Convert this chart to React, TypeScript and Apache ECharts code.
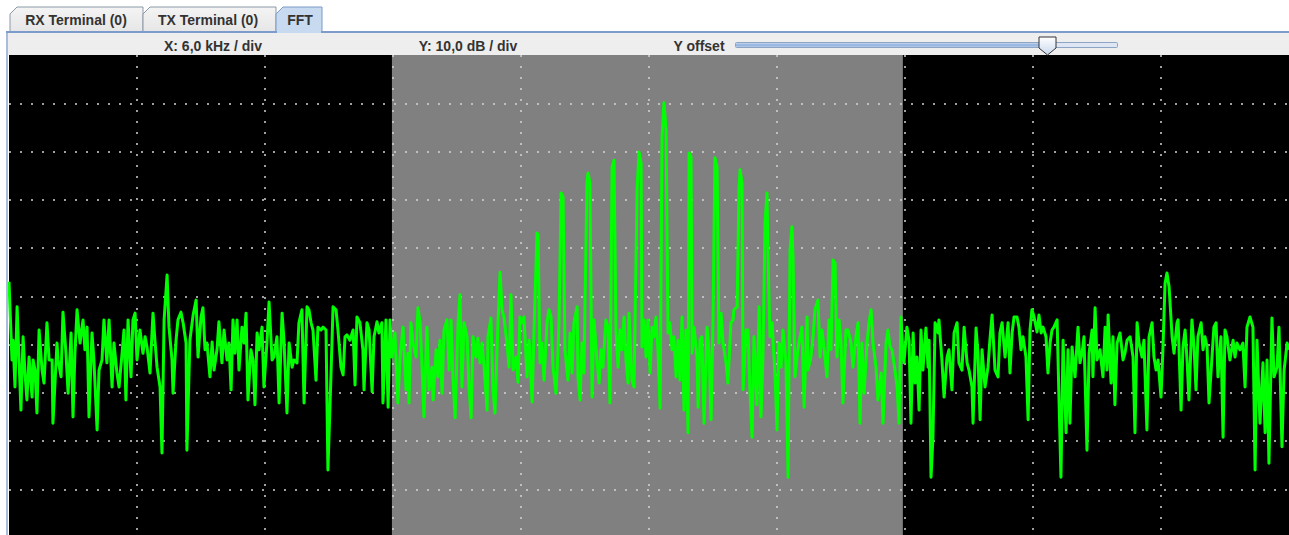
import React, { useEffect, useRef } from "react";
import * as echarts from "echarts";

// Spectrum trace, [frequency kHz, level dB], split into three stretches.
const lowNoise: [number, number][] = [
  [0, -47.0], [0.14, -63.2], [0.19, -59.1], [0.28, -68.8], [0.38, -52.2], [0.47, -63.2], [0.56, -73.6], [0.66, -58.4],
  [0.75, -65.9], [0.84, -71.5], [0.94, -62.6], [1.08, -70.9], [1.13, -63.2], [1.22, -65.3], [1.31, -74.2], [1.41, -57.0],
  [1.55, -65.3], [1.64, -68.0], [1.78, -55.5], [1.88, -63.2], [2.02, -63.2], [2.06, -76.3], [2.25, -59.7], [2.30, -63.2],
  [2.44, -66.7], [2.53, -53.3], [2.67, -61.8], [2.77, -70.1], [2.91, -57.6], [3.00, -75.0], [3.09, -61.8], [3.19, -52.8],
  [3.33, -59.7], [3.47, -54.9], [3.56, -61.1], [3.66, -56.4], [3.75, -75.0], [3.89, -57.6], [3.98, -63.2], [4.13, -77.7],
  [4.22, -65.3], [4.36, -63.2], [4.45, -54.9], [4.59, -63.8], [4.69, -54.9], [4.83, -68.8], [4.92, -59.7], [5.06, -65.9],
  [5.16, -68.8], [5.30, -61.8], [5.39, -57.0], [5.48, -71.5], [5.58, -54.9], [5.72, -66.7], [5.81, -54.9], [5.91, -53.5],
  [6.00, -63.2], [6.14, -57.0], [6.28, -61.8], [6.38, -58.4], [6.47, -60.5], [6.61, -65.9], [6.75, -53.5], [6.84, -59.1],
  [6.94, -64.7], [7.08, -68.8], [7.17, -82.5], [7.27, -54.9], [7.41, -45.6], [7.50, -56.4], [7.64, -63.2], [7.69, -70.1],
  [7.83, -59.1], [7.92, -54.9], [8.06, -53.3], [8.16, -55.5], [8.30, -59.7], [8.34, -81.9], [8.48, -59.1], [8.63, -53.9],
  [8.77, -50.8], [8.86, -62.6], [9.00, -54.3], [9.09, -52.4], [9.19, -61.1], [9.28, -59.7], [9.42, -66.7], [9.52, -59.5],
  [9.61, -65.3], [9.75, -61.1], [9.84, -55.3], [9.98, -63.8], [10.08, -57.0], [10.22, -63.2], [10.31, -59.7], [10.41, -69.4],
  [10.50, -54.9], [10.59, -61.8], [10.69, -54.9], [10.78, -65.3], [10.92, -56.4], [11.02, -59.7], [11.11, -53.5], [11.20, -71.5],
  [11.34, -61.1], [11.44, -63.2], [11.53, -72.5], [11.63, -57.6], [11.72, -61.1], [11.86, -56.4], [11.95, -68.8], [12.09, -59.7],
  [12.19, -51.2], [12.33, -63.2], [12.42, -62.6], [12.56, -58.4], [12.66, -72.1], [12.80, -53.5], [12.89, -59.1], [13.03, -74.2],
  [13.13, -59.7], [13.27, -64.7], [13.36, -63.2], [13.50, -63.8], [13.59, -55.5], [13.73, -52.8], [13.83, -72.1], [13.97, -52.2],
  [14.06, -52.8], [14.16, -55.5], [14.25, -57.0], [14.39, -67.4], [14.48, -56.4], [14.63, -57.0], [14.72, -56.4], [14.86, -57.0],
  [14.95, -86.0], [15.09, -66.7], [15.19, -52.2], [15.33, -52.8], [15.42, -57.0], [15.56, -64.7], [15.66, -66.3], [15.75, -58.4],
  [15.84, -58.0], [15.98, -59.1], [16.13, -57.0], [16.22, -68.4], [16.31, -54.3], [16.45, -55.5], [16.59, -61.1], [16.64, -69.4],
  [16.78, -55.5], [16.88, -57.0], [17.02, -69.8], [17.11, -58.4], [17.25, -55.3], [17.34, -57.6], [17.48, -55.5], [17.53, -72.1],
  [17.67, -54.9], [17.77, -73.0], [17.86, -54.9],
];

const bandTrace: [number, number][] = [
  [17.95, -62.6], [18.09, -57.6], [18.23, -72.1], [18.33, -62.6], [18.47, -56.4], [18.61, -69.4], [18.70, -61.8], [18.75, -72.1],
  [18.84, -55.5], [18.94, -59.7], [19.08, -62.6], [19.17, -52.4], [19.27, -55.5], [19.36, -64.7], [19.45, -75.0], [19.59, -56.4],
  [19.69, -69.4], [19.83, -64.7], [19.88, -71.5], [20.02, -61.1], [20.11, -66.7], [20.20, -59.1], [20.30, -70.1], [20.39, -57.0],
  [20.53, -54.9], [20.63, -65.3], [20.72, -54.9], [20.81, -66.7], [20.91, -75.2], [21.05, -55.5], [21.14, -49.7], [21.23, -68.8],
  [21.33, -55.5], [21.47, -58.4], [21.56, -68.8], [21.66, -75.2], [21.75, -58.4], [21.89, -62.6], [21.98, -58.7], [22.08, -63.8],
  [22.17, -59.7], [22.27, -64.7], [22.41, -73.6], [22.45, -58.4], [22.59, -54.5], [22.69, -69.4], [22.78, -74.2], [22.92, -55.5],
  [23.02, -45.0], [23.11, -52.8], [23.20, -54.3], [23.34, -59.7], [23.44, -64.7], [23.53, -49.7], [23.63, -65.3], [23.77, -62.6],
  [23.86, -67.8], [23.95, -54.3], [24.05, -55.5], [24.14, -54.3], [24.28, -66.7], [24.38, -59.1], [24.52, -71.9], [24.61, -57.0],
  [24.75, -36.9], [24.80, -37.3], [24.89, -63.8], [24.98, -59.7], [25.08, -67.4], [25.22, -55.5], [25.31, -52.8], [25.41, -54.3],
  [25.50, -64.7], [25.64, -70.1], [25.73, -61.8], [25.78, -55.5], [25.88, -28.6], [25.97, -29.4], [26.06, -61.1], [26.20, -67.4],
  [26.30, -57.6], [26.39, -65.9], [26.48, -55.5], [26.63, -52.2], [26.67, -66.7], [26.77, -71.5], [26.86, -59.7], [26.95, -65.9],
  [27.09, -26.5], [27.14, -24.5], [27.23, -26.5], [27.33, -70.9], [27.42, -54.9], [27.56, -63.2], [27.66, -68.0], [27.75, -61.1],
  [27.84, -64.7], [27.98, -54.9], [28.08, -56.4], [28.17, -72.1], [28.27, -23.2], [28.36, -21.8], [28.45, -57.0], [28.55, -64.7],
  [28.64, -57.0], [28.73, -61.1], [28.83, -54.3], [28.92, -63.2], [29.02, -68.0], [29.06, -53.5], [29.20, -67.4], [29.30, -68.8],
  [29.44, -28.0], [29.53, -20.1], [29.63, -22.4], [29.67, -60.5], [29.77, -54.9], [29.86, -62.6], [29.95, -54.9], [30.05, -65.9],
  [30.14, -56.4], [30.23, -58.4], [30.33, -54.3], [30.42, -61.1], [30.52, -73.2], [30.61, -17.0], [30.70, -9.9], [30.80, -15.5],
  [30.89, -57.6], [30.98, -55.5], [31.08, -61.1], [31.17, -58.4], [31.27, -66.7], [31.36, -59.1], [31.45, -67.4], [31.55, -54.3],
  [31.64, -73.6], [31.73, -57.0], [31.83, -78.3], [31.88, -20.3], [31.97, -21.1], [32.02, -61.8], [32.11, -56.4], [32.25, -62.6],
  [32.30, -73.0], [32.39, -59.1], [32.48, -58.4], [32.58, -76.3], [32.72, -56.4], [32.81, -61.1], [32.91, -75.6], [33.00, -55.5],
  [33.09, -21.3], [33.19, -23.2], [33.28, -59.7], [33.38, -53.5], [33.47, -59.7], [33.61, -63.8], [33.70, -68.0], [33.84, -55.5],
  [33.94, -54.9], [33.98, -52.8], [34.13, -52.2], [34.22, -27.4], [34.27, -23.8], [34.36, -26.5], [34.41, -69.4], [34.55, -57.0],
  [34.64, -57.0], [34.73, -69.4], [34.83, -79.2], [34.92, -58.4], [35.06, -72.5], [35.16, -52.2], [35.25, -75.0], [35.34, -62.6],
  [35.44, -34.8], [35.53, -28.6], [35.58, -41.9], [35.67, -58.4], [35.77, -55.5], [35.91, -66.7], [36.00, -77.7], [36.09, -59.7],
  [36.19, -64.7], [36.28, -57.0], [36.42, -63.8], [36.52, -87.5], [36.61, -40.4], [36.70, -35.6], [36.75, -41.9], [36.84, -66.7],
  [36.98, -61.1], [37.08, -58.4], [37.17, -56.4], [37.27, -73.0], [37.41, -54.3], [37.45, -65.3], [37.59, -62.6], [37.69, -58.4],
  [37.78, -52.8], [37.92, -50.8], [38.02, -62.6], [38.11, -57.0], [38.20, -60.5], [38.34, -66.7], [38.44, -54.9], [38.53, -61.1],
  [38.63, -42.5], [38.72, -43.1], [38.81, -62.6], [38.91, -54.9], [39.00, -59.7], [39.09, -72.1], [39.23, -57.0], [39.33, -57.0],
  [39.47, -59.7], [39.56, -64.7], [39.70, -58.4], [39.80, -55.5], [39.89, -76.3], [39.98, -59.7], [40.08, -70.1], [40.22, -59.7],
  [40.31, -55.5], [40.41, -52.8], [40.50, -59.7], [40.64, -64.7], [40.73, -71.5], [40.88, -65.9], [40.97, -76.3], [41.11, -59.7],
  [41.20, -57.0], [41.30, -60.5], [41.39, -61.1], [41.53, -65.3], [41.63, -68.8], [41.72, -76.3], [41.81, -54.3],
];

const highNoise: [number, number][] = [
  [41.91, -62.6], [41.95, -63.8], [42.09, -56.4], [42.19, -59.1], [42.28, -76.3], [42.38, -57.6], [42.47, -68.0], [42.56, -62.6],
  [42.66, -73.6], [42.75, -57.0], [42.84, -65.3], [42.98, -56.6], [43.08, -64.7], [43.13, -59.1], [43.22, -87.5], [43.31, -79.2],
  [43.41, -55.5], [43.55, -57.6], [43.59, -54.9], [43.73, -63.2], [43.83, -70.9], [43.97, -62.6], [44.06, -61.1], [44.20, -69.4],
  [44.30, -57.6], [44.44, -55.5], [44.53, -63.8], [44.67, -65.3], [44.77, -56.4], [44.91, -63.8], [45.00, -65.3], [45.14, -68.8],
  [45.19, -76.3], [45.33, -56.6], [45.42, -61.8], [45.52, -75.6], [45.61, -61.1], [45.75, -68.8], [45.89, -64.7], [45.98, -59.1],
  [46.08, -53.9], [46.22, -65.3], [46.36, -66.7], [46.45, -57.6], [46.55, -55.5], [46.69, -62.6], [46.83, -55.5], [46.92, -65.9],
  [47.02, -57.6], [47.11, -54.3], [47.25, -54.3], [47.34, -56.4], [47.44, -61.1], [47.53, -58.4], [47.67, -62.6], [47.77, -75.6],
  [47.86, -57.0], [47.95, -52.8], [48.05, -54.3], [48.19, -57.4], [48.28, -53.9], [48.38, -57.6], [48.47, -56.4], [48.61, -58.4],
  [48.70, -65.9], [48.80, -59.7], [48.89, -57.0], [48.98, -56.4], [49.13, -54.9], [49.22, -71.5], [49.31, -87.5], [49.41, -59.1],
  [49.55, -78.3], [49.64, -61.1], [49.73, -76.3], [49.83, -60.5], [49.97, -66.7], [50.11, -56.4], [50.20, -63.8], [50.30, -61.8],
  [50.39, -58.4], [50.53, -81.9], [50.63, -61.8], [50.77, -57.0], [50.81, -66.7], [50.91, -52.4], [51.00, -63.2], [51.14, -61.1],
  [51.28, -66.7], [51.38, -56.4], [51.47, -65.3], [51.52, -53.9], [51.66, -68.0], [51.75, -58.4], [51.84, -72.5], [51.94, -59.7],
  [52.08, -57.6], [52.22, -63.2], [52.31, -61.8], [52.41, -59.1], [52.55, -58.4], [52.69, -62.6], [52.78, -78.3], [52.88, -55.5],
  [52.97, -59.7], [53.11, -62.6], [53.20, -59.1], [53.34, -77.7], [53.44, -58.4], [53.58, -55.5], [53.67, -62.6], [53.77, -65.3],
  [53.86, -63.2], [54.00, -70.9], [54.09, -61.1], [54.19, -47.3], [54.28, -45.2], [54.38, -48.1], [54.52, -58.4], [54.61, -61.8],
  [54.75, -55.5], [54.80, -54.9], [54.94, -73.6], [55.03, -60.5], [55.13, -57.0], [55.22, -63.2], [55.31, -71.5], [55.45, -54.9],
  [55.55, -60.5], [55.64, -69.4], [55.73, -58.4], [55.88, -55.5], [55.97, -61.1], [56.06, -58.4], [56.16, -60.5], [56.25, -72.1],
  [56.39, -62.6], [56.48, -56.4], [56.58, -55.5], [56.67, -66.7], [56.81, -58.4], [56.91, -79.2], [57.00, -57.0], [57.09, -58.4],
  [57.23, -63.2], [57.38, -59.1], [57.47, -62.6], [57.56, -59.7], [57.70, -61.1], [57.84, -59.7], [57.94, -68.8], [58.03, -56.4],
  [58.17, -54.3], [58.31, -56.4], [58.41, -86.0], [58.50, -59.1], [58.64, -76.3], [58.78, -63.8], [58.88, -78.3], [58.97, -63.2],
  [59.06, -84.6], [59.20, -54.5], [59.30, -66.7], [59.44, -64.7], [59.53, -56.4], [59.67, -81.2], [59.77, -65.3], [59.91, -59.7],
  [60.00, -61.1],
];

// Display scale: 10 x 10 divisions.
const KHZ_PER_DIV = 6;
const DB_PER_DIV = 10;
const DIVISIONS = 10;
const TOP_DB = 0;

// Highlighted pass band.
const bandStartKHz = 17.95;
const bandEndKHz = 41.9;

const tabLabels = ["RX Terminal (0)", "TX Terminal (0)", "FFT"];
const xScaleLabel = "X: 6,0 kHz / div";
const yScaleLabel = "Y: 10,0 dB / div";
const offsetLabel = "Y offset";

const FONT = "'Liberation Sans', Arial, sans-serif";
const LABEL_FONT = `bold 14px ${FONT}`;

export default function App() {
  const ref = useRef<HTMLDivElement>(null);

  useEffect(() => {
    document.body.style.margin = "0";
    const el = ref.current;
    if (!el) return;
    const chart = echarts.init(el, undefined, { renderer: "svg" });

    const tabBoxes = [
      { x0: 10, x1: 143, cx: 76 },
      { x0: 143, x1: 276, cx: 208 },
      { x0: 276, x1: 322, cx: 300 },
    ];
    const tabs: any[] = [];
    tabBoxes.forEach((b, i) => {
      const selected = i === 2;
      tabs.push({
        type: "polygon",
        shape: {
          points: [
            [b.x0, 32],
            [b.x0, 14],
            [b.x0 + 7, 7],
            [b.x1, 7],
            [b.x1, 32],
          ],
        },
        style: {
          fill: selected
            ? "#c8daf0"
            : new echarts.graphic.LinearGradient(0, 0, 0, 1, [
                { offset: 0, color: "#f4f4f4" },
                { offset: 1, color: "#e6e6e6" },
              ]),
          stroke: selected ? "#7a9ac8" : "#8c98a8",
          lineWidth: 1,
        },
        z: selected ? 12 : 11,
      });
      tabs.push({
        type: "text",
        x: b.cx,
        y: 20,
        style: {
          text: tabLabels[i],
          font: LABEL_FONT,
          fill: "#333333",
          align: "center",
          verticalAlign: "middle",
        },
        z: 13,
      });
    });

    const option: any = {
      animation: false,
      backgroundColor: "#ffffff",
      grid: {
        left: 9,
        top: 55,
        width: 1280,
        height: 482.5,
        show: true,
        backgroundColor: "#000000",
        borderWidth: 0,
      },
      xAxis: {
        type: "value",
        min: 0,
        max: KHZ_PER_DIV * DIVISIONS,
        interval: KHZ_PER_DIV,
        z: 2,
        axisLine: { show: false },
        axisTick: { show: false },
        axisLabel: { show: false },
        splitLine: {
          show: true,
          showMinLine: false,
          showMaxLine: false,
          lineStyle: { color: "#d4d4d4", width: 1.5, type: [2, 9] },
        },
      },
      yAxis: {
        type: "value",
        min: TOP_DB - DB_PER_DIV * DIVISIONS,
        max: TOP_DB,
        interval: DB_PER_DIV,
        z: 2,
        axisLine: { show: false },
        axisTick: { show: false },
        axisLabel: { show: false },
        splitLine: {
          show: true,
          showMinLine: false,
          showMaxLine: false,
          lineStyle: { color: "#d4d4d4", width: 1.5, type: [2, 9] },
        },
      },
      series: [
        {
          type: "line",
          data: [],
          z: 1,
          silent: true,
          markArea: {
            silent: true,
            itemStyle: { color: "#808080" },
            data: [[{ xAxis: bandStartKHz }, { xAxis: bandEndKHz }]],
          },
        },
        {
          type: "line",
          data: [...lowNoise, ...bandTrace, ...highNoise],
          z: 3,
          showSymbol: false,
          silent: true,
          lineStyle: { color: "#00ff00", width: 3, join: "round" },
        },
      ],
      graphic: [
        // tab strip
        ...tabs,
        { type: "rect", shape: { x: 6, y: 31, width: 1283, height: 2 }, style: { fill: "#7d9bcb" }, z: 14 },
        { type: "rect", shape: { x: 277, y: 31, width: 44, height: 2 }, style: { fill: "#c8daf0" }, z: 15 },
        // control strip
        { type: "rect", shape: { x: 8, y: 33, width: 1281, height: 22 }, style: { fill: "#eeeeee" }, z: 10 },
        { type: "rect", shape: { x: 6, y: 33, width: 2, height: 505 }, style: { fill: "#a9bcdc" }, z: 14 },
        {
          type: "text",
          x: 213,
          y: 46,
          style: { text: xScaleLabel, font: LABEL_FONT, fill: "#333333", align: "center", verticalAlign: "middle" },
          z: 13,
        },
        {
          type: "text",
          x: 468,
          y: 46,
          style: { text: yScaleLabel, font: LABEL_FONT, fill: "#333333", align: "center", verticalAlign: "middle" },
          z: 13,
        },
        {
          type: "text",
          x: 699,
          y: 46,
          style: { text: offsetLabel, font: LABEL_FONT, fill: "#333333", align: "center", verticalAlign: "middle" },
          z: 13,
        },
        // Y offset slider
        {
          type: "rect",
          shape: { x: 735.5, y: 42.5, width: 382, height: 5, r: 1 },
          style: { fill: "#dde6f2", stroke: "#8da4c4", lineWidth: 1 },
          z: 13,
        },
        {
          type: "rect",
          shape: { x: 736, y: 43, width: 310, height: 4 },
          style: {
            fill: new echarts.graphic.LinearGradient(0, 0, 0, 1, [
              { offset: 0, color: "#c9d8ee" },
              { offset: 0.5, color: "#8fb0de" },
              { offset: 1, color: "#b7cbe8" },
            ]),
          },
          z: 14,
        },
        {
          type: "polygon",
          shape: {
            points: [
              [1039, 37],
              [1056, 37],
              [1056, 48],
              [1047.5, 55],
              [1039, 48],
            ],
          },
          style: {
            fill: new echarts.graphic.LinearGradient(0, 0, 0, 1, [
              { offset: 0, color: "#ffffff" },
              { offset: 1, color: "#c9d8ee" },
            ]),
            stroke: "#333333",
            lineWidth: 1,
          },
          z: 15,
        },
      ],
    };

    chart.setOption(option);
    return () => chart.dispose();
  }, []);

  return <div ref={ref} style={{ width: 1289, height: 538 }} />;
}
